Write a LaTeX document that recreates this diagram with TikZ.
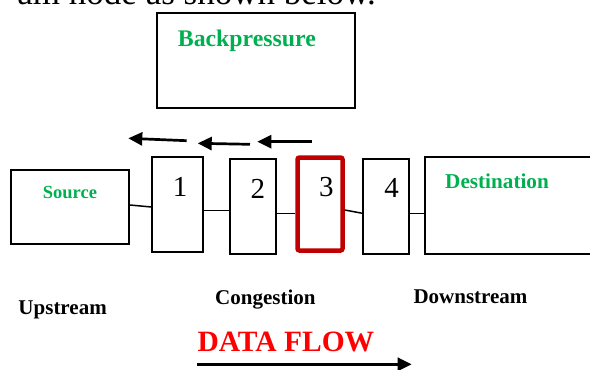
\documentclass[tikz,border=0pt]{standalone}
\usepackage{fontspec}
\setmainfont{Liberation Serif}
\usetikzlibrary{arrows.meta}
\definecolor{lblgreen}{RGB}{0,176,80}
\definecolor{boxred}{RGB}{192,0,0}
\definecolor{flowred}{RGB}{255,0,0}
\newcommand{\fs}[1]{\fontsize{#1}{#1}\selectfont}
\begin{document}
\begin{tikzpicture}[x=1pt,y=-1pt,
  box/.style={draw=black,line width=1.8pt,inner sep=0pt,minimum width=#1},
  redbox/.style={draw=boxred,line width=4.5pt,rounded corners=2pt,inner sep=0pt},
  lbl/.style={inner sep=0pt,anchor=base west},
  num/.style={inner sep=0pt,anchor=base,font=\fs{29}},
  link/.style={draw=black,line width=1.5pt},
  back/.style={line width=2.7pt,-{Triangle[length=14pt,width=13pt]}},
  flow/.style={line width=3pt,-{Triangle[length=14pt,width=13pt]}}]
\useasboundingbox (0,0) rectangle (590,370);
\clip (0,0) rectangle (590,370);
% clipped sentence at top
\node[inner sep=0pt,anchor=base east,font=\fs{35}] (sent) at (376,4) {am node as shown below.};
% boxes
\node[box=197.7pt,minimum height=95pt] (bp) at (256.2,60.8) {};
\node[box=118pt,minimum height=74pt] (src) at (70,207) {};
\node[box=51pt,minimum height=94.4pt] (b1) at (177.8,204.5) {};
\node[box=46pt,minimum height=94.7pt] (b2) at (253,206.7) {};
\node[redbox,minimum width=45pt,minimum height=93pt] (b3) at (320,204) {};
\node[box=45.7pt,minimum height=94.7pt] (b4) at (386.2,206.7) {};
\node[box=200pt,minimum height=97.3pt] (dst) at (525,205.3) {};
% labels
\node[lbl,font=\fs{23.8}\bfseries,text=lblgreen] (bpl) at (177.7,46.7) {Backpressure};
\node[lbl,font=\fs{18.5}\bfseries,text=lblgreen] (srcl) at (42.7,198) {Source};
\node[lbl,font=\fs{21.2}\bfseries,text=lblgreen] (dstl) at (445,188.3) {Destination};
\node[num] (n1) at (180,196) {1};
\node[num] (n2) at (257.8,198) {2};
\node[num] (n3) at (326.3,196) {3};
\node[num] (n4) at (391.7,197) {4};
\node[lbl,font=\fs{21}\bfseries] (up) at (18.3,314) {Upstream};
\node[lbl,font=\fs{21}\bfseries] (cong) at (215,304) {Congestion};
\node[lbl,font=\fs{21}\bfseries] (down) at (413.3,303.3) {Downstream};
\node[lbl,font=\fs{29.5}\bfseries,text=flowred] (df) at (197.3,351) {DATA FLOW};
% connectors
\draw[link] (src.east |- 0,205) -- (b1.west |- 0,207);
\draw[link] (b1.east |- 0,210.7) -- (b2.west |- 0,210.7);
\draw[link] (b2.east |- 0,213.3) -- (b3.west |- 0,213.3);
\draw[link] (b3.east |- 0,210) -- (b4.west |- 0,213.3);
\draw[link] (b4.east |- 0,213.3) -- (dst.west |- 0,213.3);
% backpressure arrows
\coordinate (a1s) at (186.7,140.7); \coordinate (a1e) at (128.3,138.3);
\coordinate (a2s) at (250,144.3);   \coordinate (a2e) at (197.7,143.3);
\coordinate (a3s) at (311.7,141.7); \coordinate (a3e) at (257.3,141.7);
\draw[back] (a1s) -- (a1e);
\draw[back] (a2s) -- (a2e);
\draw[back] (a3s) -- (a3e);
% data flow arrow
\coordinate (fs) at (197,364.3); \coordinate (fe) at (411.7,364.3);
\draw[flow] (fs) -- (fe);
\end{tikzpicture}
\end{document}
